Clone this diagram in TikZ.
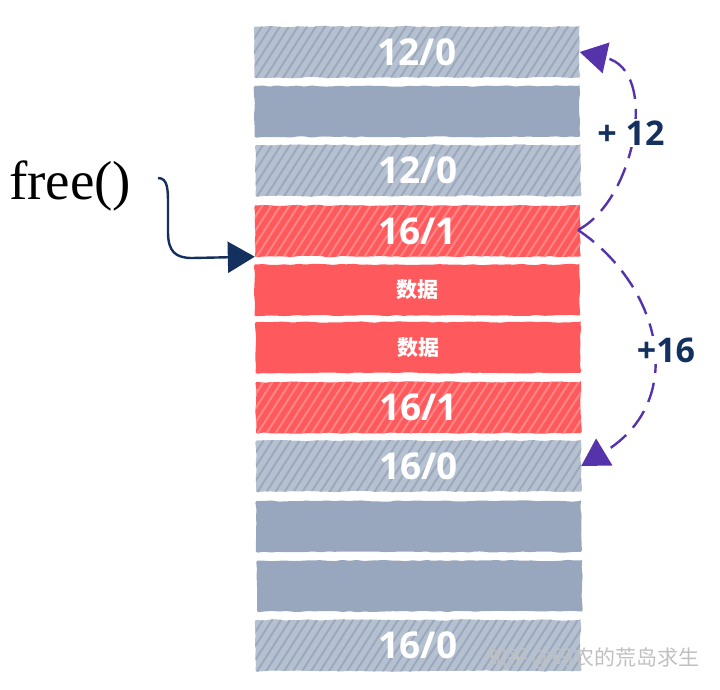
\documentclass[tikz,border=0pt]{standalone}
\usepackage{fontspec}
\usetikzlibrary{arrows.meta,decorations.pathmorphing}
\newfontfamily\osans{Open Sans}
\newfontfamily\cjk{Noto Sans CJK SC}
\newfontfamily\lserif{Liberation Serif}
\definecolor{hgray}{HTML}{B5C1D1}
\definecolor{hgraystripe}{HTML}{9CA9BD}
\definecolor{sgray}{HTML}{98A7BD}
\definecolor{sred}{HTML}{FE5A5E}
\definecolor{redstripe}{HTML}{FF8686}
\definecolor{navy}{HTML}{14305E}
\definecolor{purp}{HTML}{5533AA}
\definecolor{wmark}{HTML}{C0C0C0}
\pgfmathsetseed{7}
\tikzset{
  barbase/.style={minimum width=325pt, minimum height=51pt, inner sep=0pt,
    text=white, font=\osans\bfseries\fontsize{37}{37}\selectfont,
    rounded corners=1.5pt, decorate,
    decoration={random steps, segment length=7pt, amplitude=0.7pt}},
  hatched/.style={path picture={
      \foreach \k in {-70,-61,...,340}
        \draw[line width=2pt, draw=#1]
          ([xshift=\k pt]path picture bounding box.south west) -- ++(36,-56);}},
  graystriped/.style={barbase, fill=hgray, hatched=hgraystripe},
  redstriped/.style={barbase, fill=sred, hatched=redstripe},
  graysolid/.style={barbase, fill=sgray},
  redsolid/.style={barbase, fill=sred, font=\cjk\bfseries\fontsize{21}{21}\selectfont},
  dashline/.style={draw=purp, line width=2.4pt, dash pattern=on 20pt off 10pt},
  bigtip/.style={-{Triangle[length=27pt,width=31pt]}},
  steplabel/.style={fill=white, inner sep=2pt, text=navy,
    font=\osans\bfseries\fontsize{34}{34}\selectfont}
}
\begin{document}
\begin{tikzpicture}[x=1pt,y=-1pt]
\useasboundingbox (0,0) rectangle (720,689);
% memory blocks
\node[graystriped] (b1) at (417,52) {12/0};
\node[graysolid]   (b2) at (417,111.5) {};
\node[graystriped] (b3) at (418,170.5) {12/0};
\node[redstriped]  (b4) at (417.5,231) {16/1};
\node[redsolid]    (b5) at (417,290) {数据};
\node[redsolid]    (b6) at (418,347.5) {数据};
\node[redstriped]  (b7) at (418.5,407.5) {16/1};
\node[graystriped] (b8) at (418.5,466) {16/0};
\node[graysolid]   (b9) at (418.5,526.5) {};
\node[graysolid]   (b10) at (419.5,586) {};
\node[graystriped] (b11) at (418,645.5) {16/0};
% free()
\node[anchor=base west, inner sep=0pt, font=\lserif\fontsize{55}{55}\selectfont] (free) at (9,199) {free()};
\coordinate (fa) at (158,178);
\coordinate (hub) at (578,230);
\draw[navy, line width=2.4pt, bigtip]
  (fa) .. controls (168,178) and (168,190) .. (168,205) -- (168,232)
  .. controls (168,252) and (176,258) .. (192,258) -- (b4.south west);
% offset arrows
\draw[dashline, bigtip] (hub) .. controls (635,200) and (660,70) .. (b1.east);
\draw[dashline, bigtip] (hub) .. controls (660,285) and (690,400) .. (b8.east);
\node[steplabel] (l12) at (631,133) {+ 12};
\node[steplabel] (l16) at (666,350) {+16};
% watermark
\node[text=wmark, font=\cjk\fontsize{21}{21}\selectfont, inner sep=0pt] (wm) at (593,658) {知乎 @码农的荒岛求生};
\end{tikzpicture}
\end{document}
